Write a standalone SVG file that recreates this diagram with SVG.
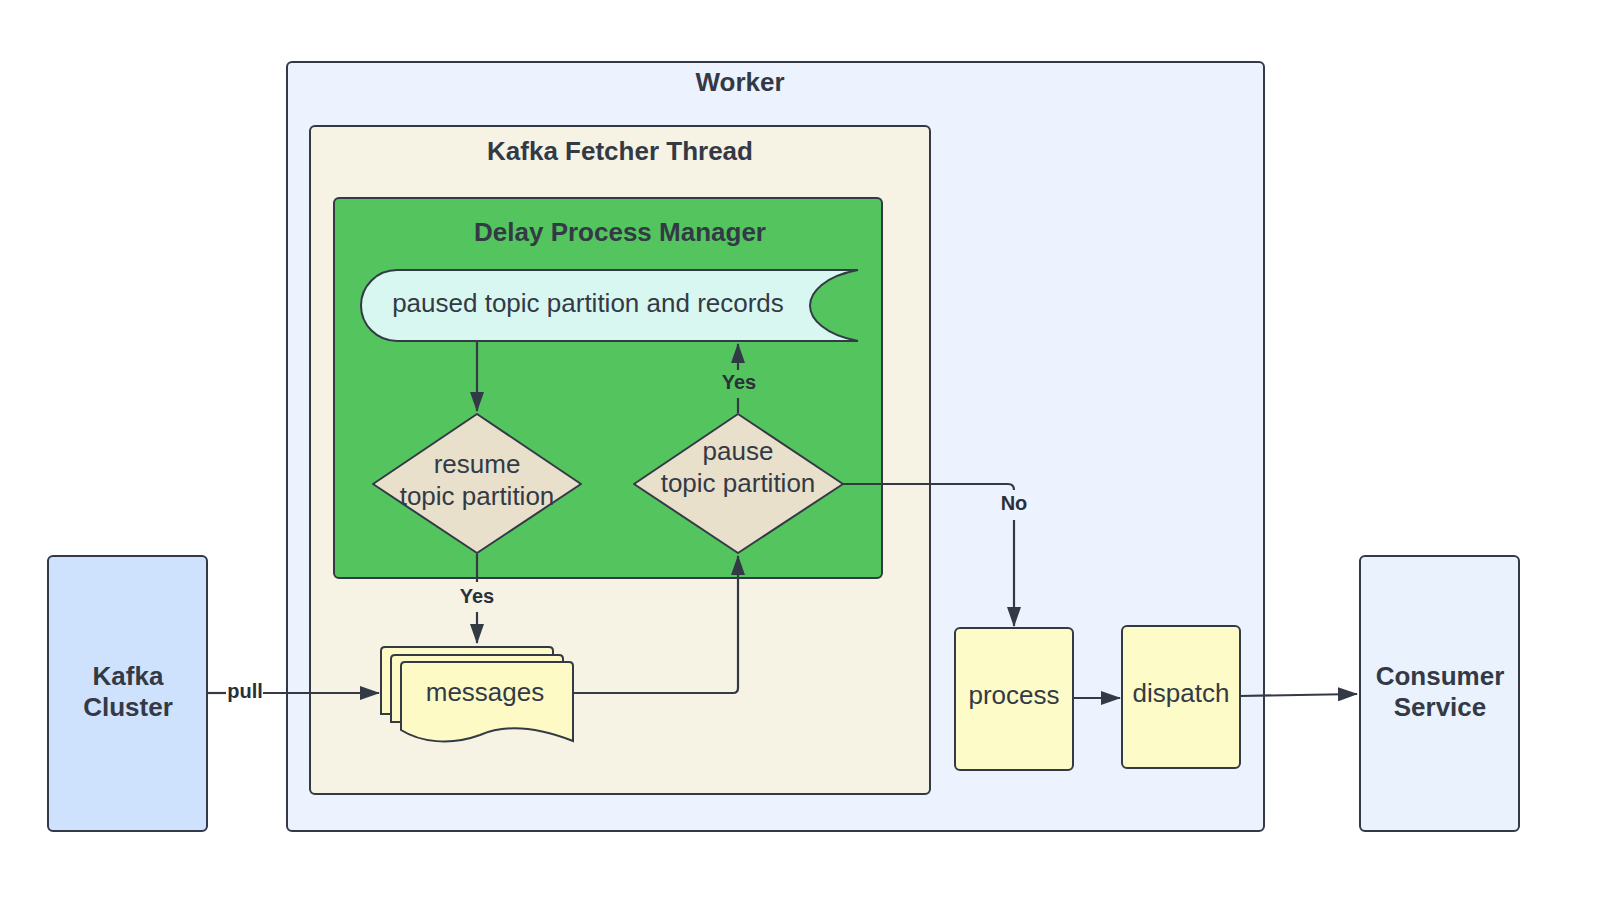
<svg xmlns="http://www.w3.org/2000/svg" width="1600" height="898" viewBox="0 0 1600 898">
<defs>
<style>
.box{stroke:#333a45;stroke-width:2}
.t{font-family:"Liberation Sans",Arial,sans-serif;fill:#333a45}
.title{font-weight:bold;font-size:26px}
.lbl{font-size:26px}
.cl{font-weight:bold;font-size:20px;fill:#2a2f38}
.conn{fill:none;stroke:#333a45;stroke-width:2.2}
</style>
<marker id="ahL" viewBox="0 0 20 14" refX="19" refY="7" markerWidth="20" markerHeight="14" markerUnits="userSpaceOnUse" orient="auto">
<path d="M0,0 L20,7 L0,14 z" fill="#333a45"/>
</marker>
</defs>
<rect width="1600" height="898" fill="#ffffff"/>

<g id="worker">
<rect class="box" x="287" y="62" width="977" height="769" rx="5" fill="#ecf3fe"/>
<text class="t title" x="740" y="91" text-anchor="middle">Worker</text>
</g>

<g id="fetcher">
<rect class="box" x="310" y="126" width="620" height="668" rx="5" fill="#f6f2e4"/>
<text class="t title" x="620" y="160" text-anchor="middle">Kafka Fetcher Thread</text>
</g>

<g id="dpm">
<rect class="box" x="334" y="198" width="548" height="380" rx="5" fill="#54c45e"/>
<text class="t title" x="620" y="241" text-anchor="middle" fill="#2a3a3a">Delay Process Manager</text>
</g>

<g id="paused">
<path class="box" d="M397,270 L858,270 C825,276 810,292 810,305.5 C810,319 825,335 858,341 L397,341 C377,341 361,325 361,305.5 C361,286 377,270 397,270 Z" fill="#d9f7f1"/>
<text class="t lbl" x="588" y="312" text-anchor="middle">paused topic partition and records</text>
</g>

<g id="resume">
<path class="box" d="M477,414 L581,484 L477,553 L373,484 Z" fill="#e8e0cb" stroke-linejoin="round"/>
<text class="t lbl" x="477" y="473" text-anchor="middle">resume</text>
<text class="t lbl" x="477" y="505" text-anchor="middle">topic partition</text>
</g>

<g id="pause">
<path class="box" d="M738,414 L843,484 L738,553 L634,484 Z" fill="#e8e0cb" stroke-linejoin="round"/>
<text class="t lbl" x="738" y="460" text-anchor="middle">pause</text>
<text class="t lbl" x="738" y="492" text-anchor="middle">topic partition</text>
</g>

<g id="messages">
<path class="box" stroke-width="1.6" d="M385,647 L549,647 Q553,647 553,651 L553,714 L381,714 L381,651 Q381,647 385,647 Z" fill="#fdfac5"/>
<path class="box" stroke-width="1.6" d="M395,655 L559,655 Q563,655 563,659 L563,722 L391,722 L391,659 Q391,655 395,655 Z" fill="#fdfac5"/>
<path class="box" stroke-width="1.6" d="M405,662 L569,662 Q573,662 573,666 L573,741 C545,730 510,722 480,735 C450,746 420,742 401,730 L401,666 Q401,662 405,662 Z" fill="#fdfac5"/>
<text class="t lbl" x="485" y="701" text-anchor="middle">messages</text>
</g>

<g id="process">
<rect class="box" stroke-width="1.6" x="955" y="628" width="118" height="142" rx="5" fill="#fdfbc8"/>
<text class="t lbl" x="1014" y="704" text-anchor="middle">process</text>
</g>

<g id="dispatch">
<rect class="box" stroke-width="1.6" x="1122" y="626" width="118" height="142" rx="5" fill="#fdfbc8"/>
<text class="t lbl" x="1181" y="702" text-anchor="middle">dispatch</text>
</g>

<g id="kafka">
<rect class="box" x="48" y="556" width="159" height="275" rx="5" fill="#cfe2fd"/>
<text class="t title" x="128" y="685" text-anchor="middle">Kafka</text>
<text class="t title" x="128" y="716" text-anchor="middle">Cluster</text>
</g>

<g id="consumer">
<rect class="box" x="1360" y="556" width="159" height="275" rx="5" fill="#eaf2fe"/>
<text class="t title" x="1440" y="685" text-anchor="middle">Consumer</text>
<text class="t title" x="1440" y="716" text-anchor="middle">Service</text>
</g>

<g id="connectors">
<path class="conn" d="M477,342 L477,411" marker-end="url(#ahL)"/>
<path class="conn" d="M738,413 L738,398"/>
<path class="conn" d="M738,370 L738,344" marker-end="url(#ahL)"/>
<text class="t cl" x="739" y="389" text-anchor="middle">Yes</text>
<path class="conn" d="M477,554 L477,582"/>
<path class="conn" d="M477,612 L477,643" marker-end="url(#ahL)"/>
<text class="t cl" x="477" y="603" text-anchor="middle">Yes</text>
<path class="conn" d="M208,693 L226,693"/>
<path class="conn" d="M263,693 L379,693" marker-end="url(#ahL)"/>
<text class="t cl" x="245" y="698" text-anchor="middle">pull</text>
<path class="conn" d="M573,693 L733,693 Q738,693 738,688 L738,556" marker-end="url(#ahL)"/>
<path class="conn" d="M843,484 L1008,484 Q1014,484 1014,490"/>
<path class="conn" d="M1014,520 L1014,626" marker-end="url(#ahL)"/>
<text class="t cl" x="1014" y="510" text-anchor="middle">No</text>
<path class="conn" d="M1073,698 L1120,698" marker-end="url(#ahL)"/>
<path class="conn" d="M1240,696 L1357,694" marker-end="url(#ahL)"/>
</g>
</svg>
